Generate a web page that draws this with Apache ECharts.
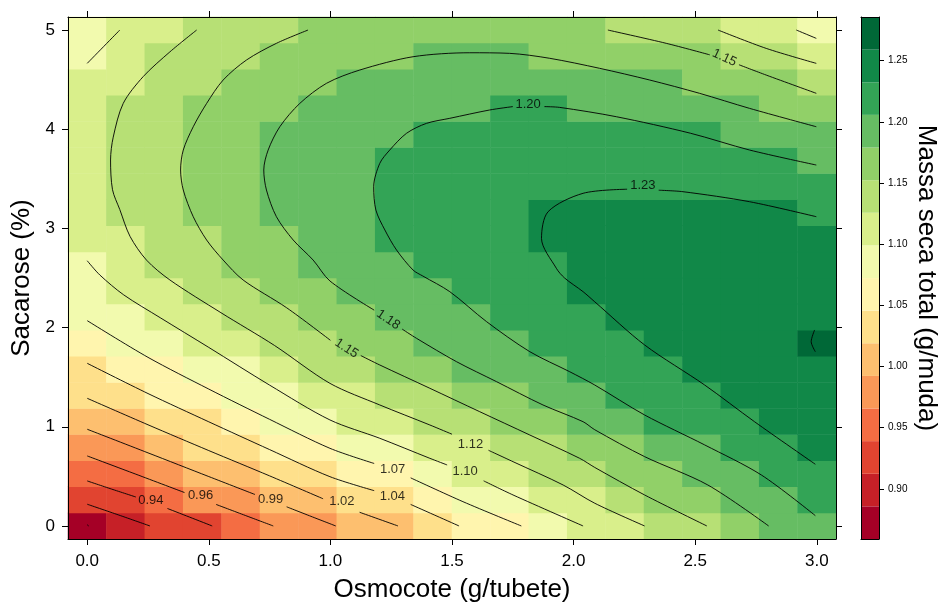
<!DOCTYPE html>
<html><head><meta charset="utf-8">
<script src="https://cdn.jsdelivr.net/npm/echarts@6/dist/echarts.min.js"></script>
<style>html,body{margin:0;padding:0;background:#fff}#c{width:939px;height:602px}</style>
</head><body><div id="c"></div>
<script>
// Grid of the response surface (cell centres)
const xValues = [0.000,0.158,0.316,0.474,0.632,0.789,0.947,1.105,1.263,1.421,1.579,1.737,1.895,2.053,2.211,2.368,2.526,2.684,2.842,3.000];
const yValues = [0.000,0.263,0.526,0.789,1.053,1.316,1.579,1.842,2.105,2.368,2.632,2.895,3.158,3.421,3.684,3.947,4.211,4.474,4.737,5.000];
// Massa seca total per cell, row by row from Sacarose = 0 upward
const massa = [
[0.872,0.899,0.925,0.925,0.952,0.979,0.979,1.005,1.005,1.032,1.059,1.059,1.085,1.112,1.112,1.139,1.139,1.165,1.192,1.192],
[0.925,0.925,0.952,0.979,0.979,1.005,1.005,1.032,1.032,1.059,1.085,1.085,1.112,1.112,1.139,1.165,1.165,1.192,1.192,1.219],
[0.952,0.952,0.979,1.005,1.005,1.032,1.032,1.059,1.059,1.085,1.112,1.112,1.139,1.139,1.165,1.165,1.192,1.192,1.219,1.219],
[0.979,0.979,1.005,1.032,1.032,1.059,1.059,1.085,1.085,1.112,1.112,1.139,1.139,1.165,1.165,1.192,1.192,1.219,1.219,1.245],
[1.005,1.005,1.032,1.032,1.059,1.085,1.085,1.112,1.112,1.139,1.139,1.165,1.165,1.192,1.192,1.219,1.219,1.219,1.245,1.245],
[1.032,1.032,1.059,1.059,1.085,1.085,1.112,1.112,1.139,1.139,1.165,1.165,1.192,1.192,1.219,1.219,1.219,1.245,1.245,1.245],
[1.032,1.059,1.059,1.085,1.085,1.112,1.139,1.139,1.165,1.165,1.192,1.192,1.192,1.219,1.219,1.219,1.245,1.245,1.245,1.245],
[1.059,1.085,1.085,1.112,1.112,1.139,1.139,1.165,1.165,1.192,1.192,1.192,1.219,1.219,1.219,1.245,1.245,1.245,1.245,1.272],
[1.085,1.085,1.112,1.112,1.139,1.139,1.165,1.165,1.192,1.192,1.192,1.219,1.219,1.219,1.245,1.245,1.245,1.245,1.245,1.245],
[1.085,1.112,1.112,1.139,1.139,1.165,1.165,1.192,1.192,1.192,1.219,1.219,1.219,1.245,1.245,1.245,1.245,1.245,1.245,1.245],
[1.085,1.112,1.139,1.139,1.165,1.165,1.192,1.192,1.192,1.219,1.219,1.219,1.219,1.245,1.245,1.245,1.245,1.245,1.245,1.245],
[1.112,1.112,1.139,1.139,1.165,1.165,1.192,1.192,1.219,1.219,1.219,1.219,1.245,1.245,1.245,1.245,1.245,1.245,1.245,1.245],
[1.112,1.139,1.139,1.165,1.165,1.192,1.192,1.192,1.219,1.219,1.219,1.219,1.245,1.245,1.245,1.245,1.245,1.245,1.245,1.219],
[1.112,1.139,1.139,1.165,1.165,1.192,1.192,1.192,1.219,1.219,1.219,1.219,1.219,1.219,1.219,1.219,1.219,1.219,1.219,1.219],
[1.112,1.139,1.139,1.165,1.165,1.192,1.192,1.192,1.219,1.219,1.219,1.219,1.219,1.219,1.219,1.219,1.219,1.219,1.219,1.192],
[1.112,1.139,1.139,1.165,1.165,1.192,1.192,1.192,1.192,1.219,1.219,1.219,1.219,1.219,1.219,1.219,1.219,1.192,1.192,1.192],
[1.112,1.139,1.139,1.165,1.165,1.165,1.192,1.192,1.192,1.192,1.192,1.219,1.219,1.192,1.192,1.192,1.192,1.192,1.165,1.165],
[1.112,1.112,1.139,1.139,1.165,1.165,1.165,1.192,1.192,1.192,1.192,1.192,1.192,1.192,1.192,1.192,1.165,1.165,1.165,1.139],
[1.085,1.112,1.139,1.139,1.139,1.165,1.165,1.165,1.165,1.192,1.192,1.192,1.165,1.165,1.165,1.165,1.165,1.139,1.139,1.112],
[1.085,1.112,1.112,1.139,1.139,1.139,1.165,1.165,1.165,1.165,1.165,1.165,1.165,1.165,1.139,1.139,1.139,1.112,1.112,1.085]
];
// Colour key break points and colours
const levels = [0.8590,0.8857,0.9123,0.9390,0.9657,0.9923,1.0190,1.0457,1.0723,1.0990,1.1257,1.1523,1.1790,1.2057,1.2323,1.2590,1.2857];
const palette = ['#A50026','#C62027','#E14430','#F46D43','#FA9857','#FDBF6F','#FEE08B','#FFF5AE','#F2FAAE','#D9EF8B','#B7E075','#91D068','#66BD63','#33A456','#118848','#006837'];
// Tick labels
const xTicks = [0, 0.5, 1, 1.5, 2, 2.5, 3];
const yTicks = [0, 1, 2, 3, 4, 5];
const keyTicks = [0.90, 0.95, 1.00, 1.05, 1.10, 1.15, 1.20, 1.25];
// Contour lines (x, y); null = break
const c0885 = [[0,0.012],[0.006,0]];
const c0912 = [[0,0.219],[0.13,0.11],[0.258,0]];
const c0939 = [[0,0.454],[0.1,0.372],[0.2,0.292],null,[0.33,0.176],[0.42,0.09],[0.514,0]];
const c0966 = [[0,0.706],[0.2,0.522],[0.4,0.337],null,[0.53,0.217],[0.65,0.106],[0.765,0]];
const c0992 = [[0,0.975],[0.25,0.737],[0.5,0.498],[0.69,0.317],null,[0.82,0.193],[0.92,0.097],[1.022,0]];
const c1019 = [[0,1.287],[0.25,1.02],[0.5,0.76],[0.75,0.505],[0.97,0.274],null,[1.12,0.138],[1.278,0]];
const c1046 = [[0,1.64],[0.25,1.335],[0.5,1.05],[0.75,0.77],[0.998,0.497],[1.18,0.356],null,[1.33,0.217],[1.529,0]];
const c1072 = [[0,2.07],[0.25,1.7],[0.5,1.38],[0.75,1.075],[0.998,0.783],[1.18,0.63],null,[1.33,0.485],[1.545,0.245],[1.785,0]];
const c1099 = [[0,2.674],[0.052,2.53],[0.15,2.33],[0.3,2.1],[0.5,1.8],[0.75,1.42],[0.998,1.069],[1.203,0.884],[1.409,0.682],[1.48,0.615],null,[1.63,0.455],[1.751,0.3125],[2.039,0],null,[0,4.664],[0.134,5],null,[2.916,5],[2.998,4.916]];
const c1126 = [[0.45,5],[0.34,4.78],[0.23,4.53],[0.148,4.26],[0.107,3.92],[0.096,3.69],[0.104,3.39],[0.134,3.19],[0.176,2.92],[0.244,2.68],[0.34,2.48],[0.55,2.15],[0.77,1.82],[0.998,1.438],[1.203,1.22],[1.409,1.018],[1.5,0.925],null,[1.65,0.763],[1.751,0.648],[1.957,0.413],[2.087,0.229],[2.292,0],null,[2.594,5],[2.792,4.815],[2.998,4.664]];
const c1152 = [[0.908,5],[0.778,4.866],[0.655,4.698],[0.559,4.496],[0.491,4.26],[0.436,4.025],[0.395,3.79],[0.384,3.589],[0.395,3.387],[0.436,3.118],[0.491,2.883],[0.559,2.681],[0.641,2.48],[0.82,2.2],[1.0,1.872],null,[1.125,1.718],[1.203,1.623],[1.409,1.388],[1.614,1.152],[1.82,0.917],[2.025,0.682],[2.087,0.59],[2.292,0.3125],[2.548,0],null,[2.141,5],[2.381,4.866],[2.56,4.75],null,[2.68,4.65],[2.792,4.546],[2.998,4.362]];
const c1179 = [[2.998,4.025],[2.724,4.21],[2.518,4.362],[2.313,4.496],[2.107,4.614],[1.902,4.715],[1.737,4.765],[1.573,4.771],[1.34,4.731],[1.121,4.597],[0.984,4.463],[0.874,4.26],[0.792,4.025],[0.744,3.79],[0.726,3.589],[0.737,3.387],[0.778,3.118],[0.847,2.883],[0.929,2.681],[0.998,2.47],[1.18,2.176],null,[1.295,1.985],[1.354,1.892],[1.518,1.657],[1.683,1.455],[1.874,1.22],[2.039,1.051],[2.087,0.97],[2.292,0.699],[2.552,0.413],[2.802,0]];
const c1206 = [[2.998,3.639],[2.724,3.79],[2.48,3.96],[2.176,4.126],[1.943,4.22],[1.88,4.228],null,[1.75,4.228],[1.655,4.194],[1.491,4.11],[1.395,4.059],[1.313,3.959],[1.244,3.79],[1.203,3.656],[1.178,3.42],[1.187,3.185],[1.224,2.984],[1.272,2.782],[1.34,2.58],[1.38,2.52],[1.491,2.362],[1.642,2.06],[1.82,1.757],[1.984,1.555],[2.087,1.421],[2.292,1.119],[2.539,0.817],[2.772,0.514],[2.994,0.104]];
const c1232 = [[2.998,3.118],[2.724,3.269],[2.45,3.37],[2.35,3.385],null,[2.22,3.395],[2.039,3.354],[1.895,3.168],[1.868,2.9],[1.929,2.598],[1.963,2.5],[2.039,2.362],[2.087,2.26],[2.292,1.825],[2.539,1.421],[2.744,1.051],[2.994,0.622]];
const c1259 = [[2.991,1.976],[2.977,1.858],[2.994,1.757]];
const contourLines = [c0885,c0912,c0939,c0966,c0992,c1019,c1046,c1072,c1099,c1126,c1152,c1179,c1206,c1232,c1259];
// Contour labels
const labelText = ['0.94','0.96','0.99','1.02','1.04','1.07','1.10','1.12','1.15','1.18','1.20','1.23','1.15'];
const labelPos = [[0.262,0.262],[0.466,0.309],[0.754,0.272],[1.047,0.245],[1.255,0.295],[1.256,0.565],[1.554,0.547],[1.576,0.823],[1.066,1.79],[1.238,2.08],[1.813,4.25],[2.285,3.43],[2.62,4.72]];
const labelRot = [0,0,0,0,0,0,0,0,-33,-34,0,0,-25];

const FONT = '"Liberation Sans", Arial, Helvetica, sans-serif';
const heat = [];
for (let j = 0; j < yValues.length; j++) for (let i = 0; i < xValues.length; i++) heat.push([i, j, massa[j][i]]);
function segments(pts){const out=[];let cur=[];for(const p of pts){if(p===null){if(cur.length)out.push(cur);cur=[];}else cur.push(p);}if(cur.length)out.push(cur);return out;}
const lineSeries = [];
contourLines.forEach(pts => segments(pts).forEach(seg => lineSeries.push({
  type:'line', xAxisIndex:1, yAxisIndex:1, data:seg, symbol:'none', showSymbol:false, smooth:0.3,
  lineStyle:{color:'#000', width:0.9}, silent:true, z:3, clip:true
})));
const dx = (xValues[1]-xValues[0])/2, dy = (yValues[1]-yValues[0])/2;
const xMin = xValues[0]-dx, xMax = xValues[xValues.length-1]+dx;
const yMin = yValues[0]-dy, yMax = yValues[yValues.length-1]+dy;
const blackLine = {show:true, onZero:false, lineStyle:{color:'#000', width:1}};
const tickSt = {color:'#000', width:1};

const chart = echarts.init(document.getElementById('c'), null, {renderer:'canvas'});
chart.setOption({
  animation:false,
  textStyle:{fontFamily:FONT},
  grid:[
    {left:68, top:17, width:768, height:522, outerBoundsMode:'none'},
    {left:68, top:17, width:768, height:522, outerBoundsMode:'none'},
    {left:861, top:17, width:18, height:522, outerBoundsMode:'none'}
  ],
  xAxis:[
    {type:'category', gridIndex:0, data:xValues.map(v=>v.toFixed(3)), show:false},
    {type:'value', gridIndex:1, position:'bottom', min:xMin, max:xMax, z:10,
     axisLine:blackLine, splitLine:{show:false},
     axisTick:{show:true, length:6, customValues:xTicks, lineStyle:tickSt},
     axisLabel:{customValues:xTicks, formatter:v=>Number(v).toFixed(1), fontSize:17, color:'#000', margin:14, fontFamily:FONT},
     name:'Osmocote (g/tubete)', nameLocation:'middle', nameGap:38, nameTextStyle:{fontSize:26, color:'#000', fontFamily:FONT}},
    {type:'value', gridIndex:1, position:'top', min:xMin, max:xMax, z:10,
     axisLine:blackLine, splitLine:{show:false},
     axisTick:{show:true, length:6, customValues:xTicks, lineStyle:tickSt}, axisLabel:{show:false}},
    {type:'value', gridIndex:2, position:'bottom', min:0, max:1, z:10, axisLine:blackLine, axisTick:{show:false}, axisLabel:{show:false}, splitLine:{show:false}},
    {type:'value', gridIndex:2, position:'top', min:0, max:1, z:10, axisLine:blackLine, axisTick:{show:false}, axisLabel:{show:false}, splitLine:{show:false}}
  ],
  yAxis:[
    {type:'category', gridIndex:0, data:yValues.map(v=>v.toFixed(3)), show:false},
    {type:'value', gridIndex:1, position:'left', min:yMin, max:yMax, z:10,
     axisLine:blackLine, splitLine:{show:false},
     axisTick:{show:true, length:6, customValues:yTicks, lineStyle:tickSt},
     axisLabel:{customValues:yTicks, formatter:v=>String(Math.round(v)), fontSize:17, color:'#000', margin:13, fontFamily:FONT},
     name:'Sacarose (%)', nameLocation:'middle', nameGap:30, nameTextStyle:{fontSize:26, color:'#000', fontFamily:FONT}},
    {type:'value', gridIndex:1, position:'right', min:yMin, max:yMax, z:10,
     axisLine:blackLine, splitLine:{show:false},
     axisTick:{show:true, length:6, customValues:yTicks, lineStyle:tickSt}, axisLabel:{show:false}},
    {type:'value', gridIndex:2, position:'right', min:levels[0], max:levels[levels.length-1], z:10,
     axisLine:blackLine, splitLine:{show:false},
     axisTick:{show:true, length:5, customValues:keyTicks, lineStyle:tickSt},
     axisLabel:{customValues:keyTicks, formatter:v=>Number(v).toFixed(2), fontSize:10, color:'#000', margin:9, fontFamily:FONT},
     name:'Massa seca total (g/muda)', nameLocation:'middle', nameRotate:-90, nameGap:34, nameTextStyle:{fontSize:26, color:'#000', fontFamily:FONT}},
    {type:'value', gridIndex:2, position:'left', min:levels[0], max:levels[levels.length-1], z:10,
     axisLine:blackLine, axisTick:{show:false}, axisLabel:{show:false}, splitLine:{show:false}}
  ],
  visualMap:{type:'piecewise', show:false, seriesIndex:0, dimension:2,
    pieces:palette.map((c,k)=>({gte:levels[k], lt:levels[k+1], color:c}))},
  series:[
    {type:'heatmap', xAxisIndex:0, yAxisIndex:0, data:heat, itemStyle:{borderWidth:0}, emphasis:{disabled:true}, silent:true, progressive:0},
    ...lineSeries,
    {type:'scatter', xAxisIndex:1, yAxisIndex:1, symbolSize:1, itemStyle:{color:'rgba(0,0,0,0)'}, silent:true, z:4,
     label:{show:true, position:'inside', color:'#000', fontSize:13, fontFamily:FONT},
     data:labelPos.map((p,k)=>({value:p, label:{formatter:labelText[k], rotate:labelRot[k]}}))},
    {type:'custom', xAxisIndex:3, yAxisIndex:3, silent:true,
     data:palette.map((c,k)=>[levels[k], levels[k+1]]),
     encode:{y:[0,1]},
     renderItem:(params, api)=>{
       const p0 = api.coord([0, api.value(0)]);
       const p1 = api.coord([1, api.value(1)]);
       return {type:'rect', shape:{x:p0[0], y:p1[1], width:p1[0]-p0[0], height:p0[1]-p1[1]}, style:{fill:palette[params.dataIndex]}};
     }}
  ]
});
</script>
</body></html>
